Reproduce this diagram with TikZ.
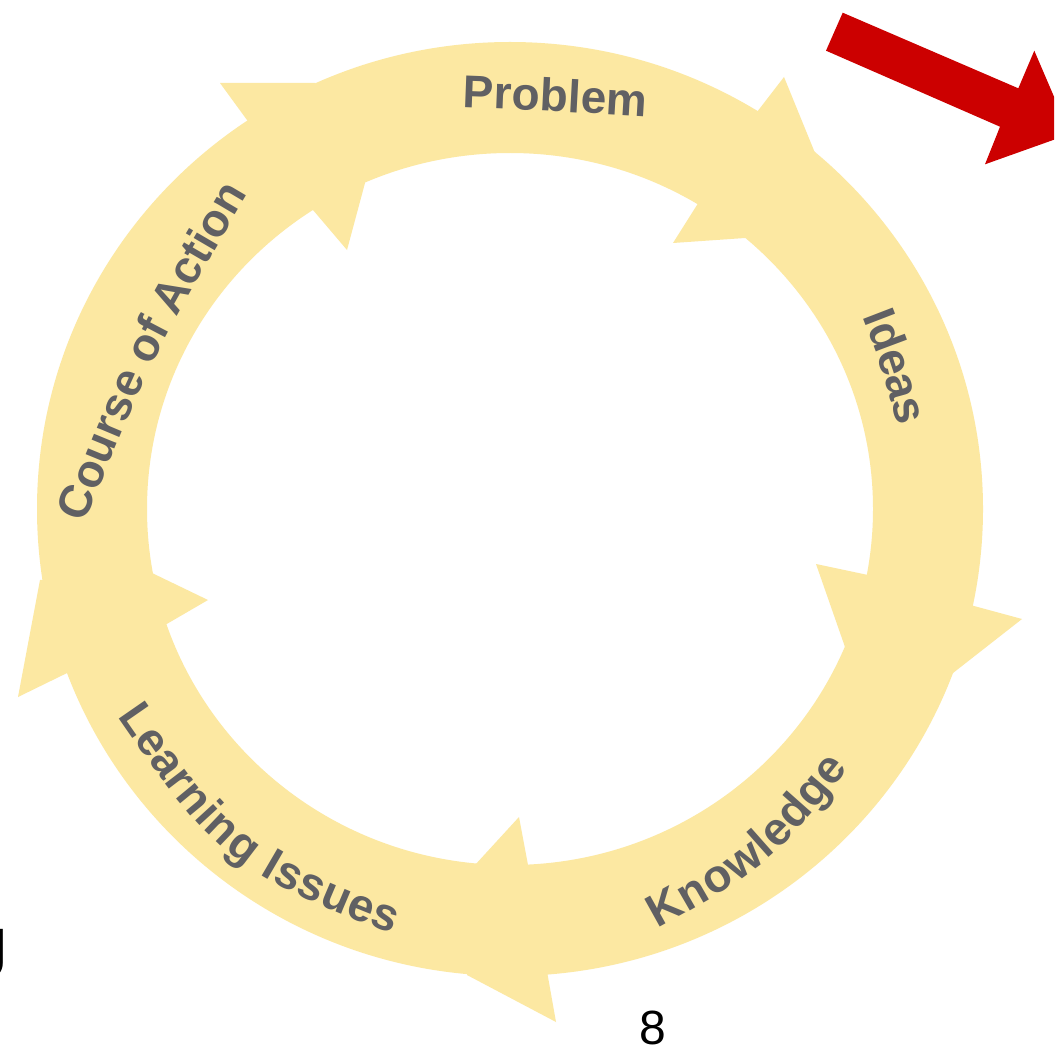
\documentclass[tikz,border=0pt]{standalone}
\usepackage{fontspec}
\setmainfont{Liberation Sans}
\usetikzlibrary{decorations.text}
\definecolor{ringfill}{RGB}{252,232,162}
\definecolor{labelgray}{RGB}{96,96,99}
\definecolor{arrowred}{RGB}{204,0,0}
\newcommand{\lblfont}{\color{labelgray}\bfseries\fontsize{46}{50}\selectfont}
\begin{document}
\begin{tikzpicture}[x=1pt,y=1pt,
  ringpart/.style={fill=ringfill},
  lbl/.style={decorate, decoration={text along path, text align=center, raise=-16.5pt, text={|\lblfont|#1}}},
  redarrow/.style={fill=arrowred}]
\useasboundingbox (0,0) rectangle (1054,-1059);
\fill[white] (0,0) rectangle (1054,-1059);
\clip (0,0) rectangle (1054,-1059);
% ring
\fill[ringpart, even odd rule] (510,-509) ellipse [x radius=473, y radius=467]
  (510,-509) ellipse [x radius=363, y radius=356];
% arrow heads (barbs)
\fill[ringpart] (247,-120) -- (220,-83) -- (315,-83) -- (365,-183) -- (347,-250) -- (313,-210) -- cycle;
\fill[ringpart] (757,-112) -- (784,-77) -- (815,-153) -- (745,-238) -- (673,-243) -- (697,-205) -- cycle;
\fill[ringpart] (974,-606) -- (1022,-619) -- (953,-673) -- (845,-647) -- (816,-564) -- (868,-575) -- cycle;
\fill[ringpart] (548,-977) -- (556,-1022) -- (467,-975) -- (475,-865) -- (519,-817) -- (528,-865) -- cycle;
\fill[ringpart] (63,-675) -- (18,-697) -- (40,-580) -- (152,-573) -- (208,-600) -- (165,-625) -- cycle;
% labels
\path[lbl={Problem}] (443,-90.5) .. controls (554.8,-94.7) .. (668,-101.5);
\path[lbl={Ideas}] (871,-293) .. controls (899.2,-365.7) .. (918,-441);
\path[lbl={Course of Action}] (60,-541) .. controls (137.3,-348.2) .. (247,-163);
\path[lbl={Knowledge}] (628,-926) .. controls (759.3,-853.8) .. (852,-739);
\path[lbl={Learning Issues}] (114,-682) .. controls (232.1,-853.8) .. (426,-930);
% red arrow
\fill[redarrow] (842.7,-12.7) -- (1018.3,-88.3) -- (1034.3,-50.7) -- (1070,-134) -- (985,-164.3) -- (1000,-126.7) -- (826,-50.7) -- cycle;
% page number and partial letter
\node[inner sep=0pt, font=\fontsize{48}{50}\selectfont] (pagenum) at (652.5,-1027.5) {8};
\node[inner sep=0pt, anchor=base west, font=\fontsize{70}{72}\selectfont] (jletter) at (-26.4,-977) {J};
\end{tikzpicture}
\end{document}
